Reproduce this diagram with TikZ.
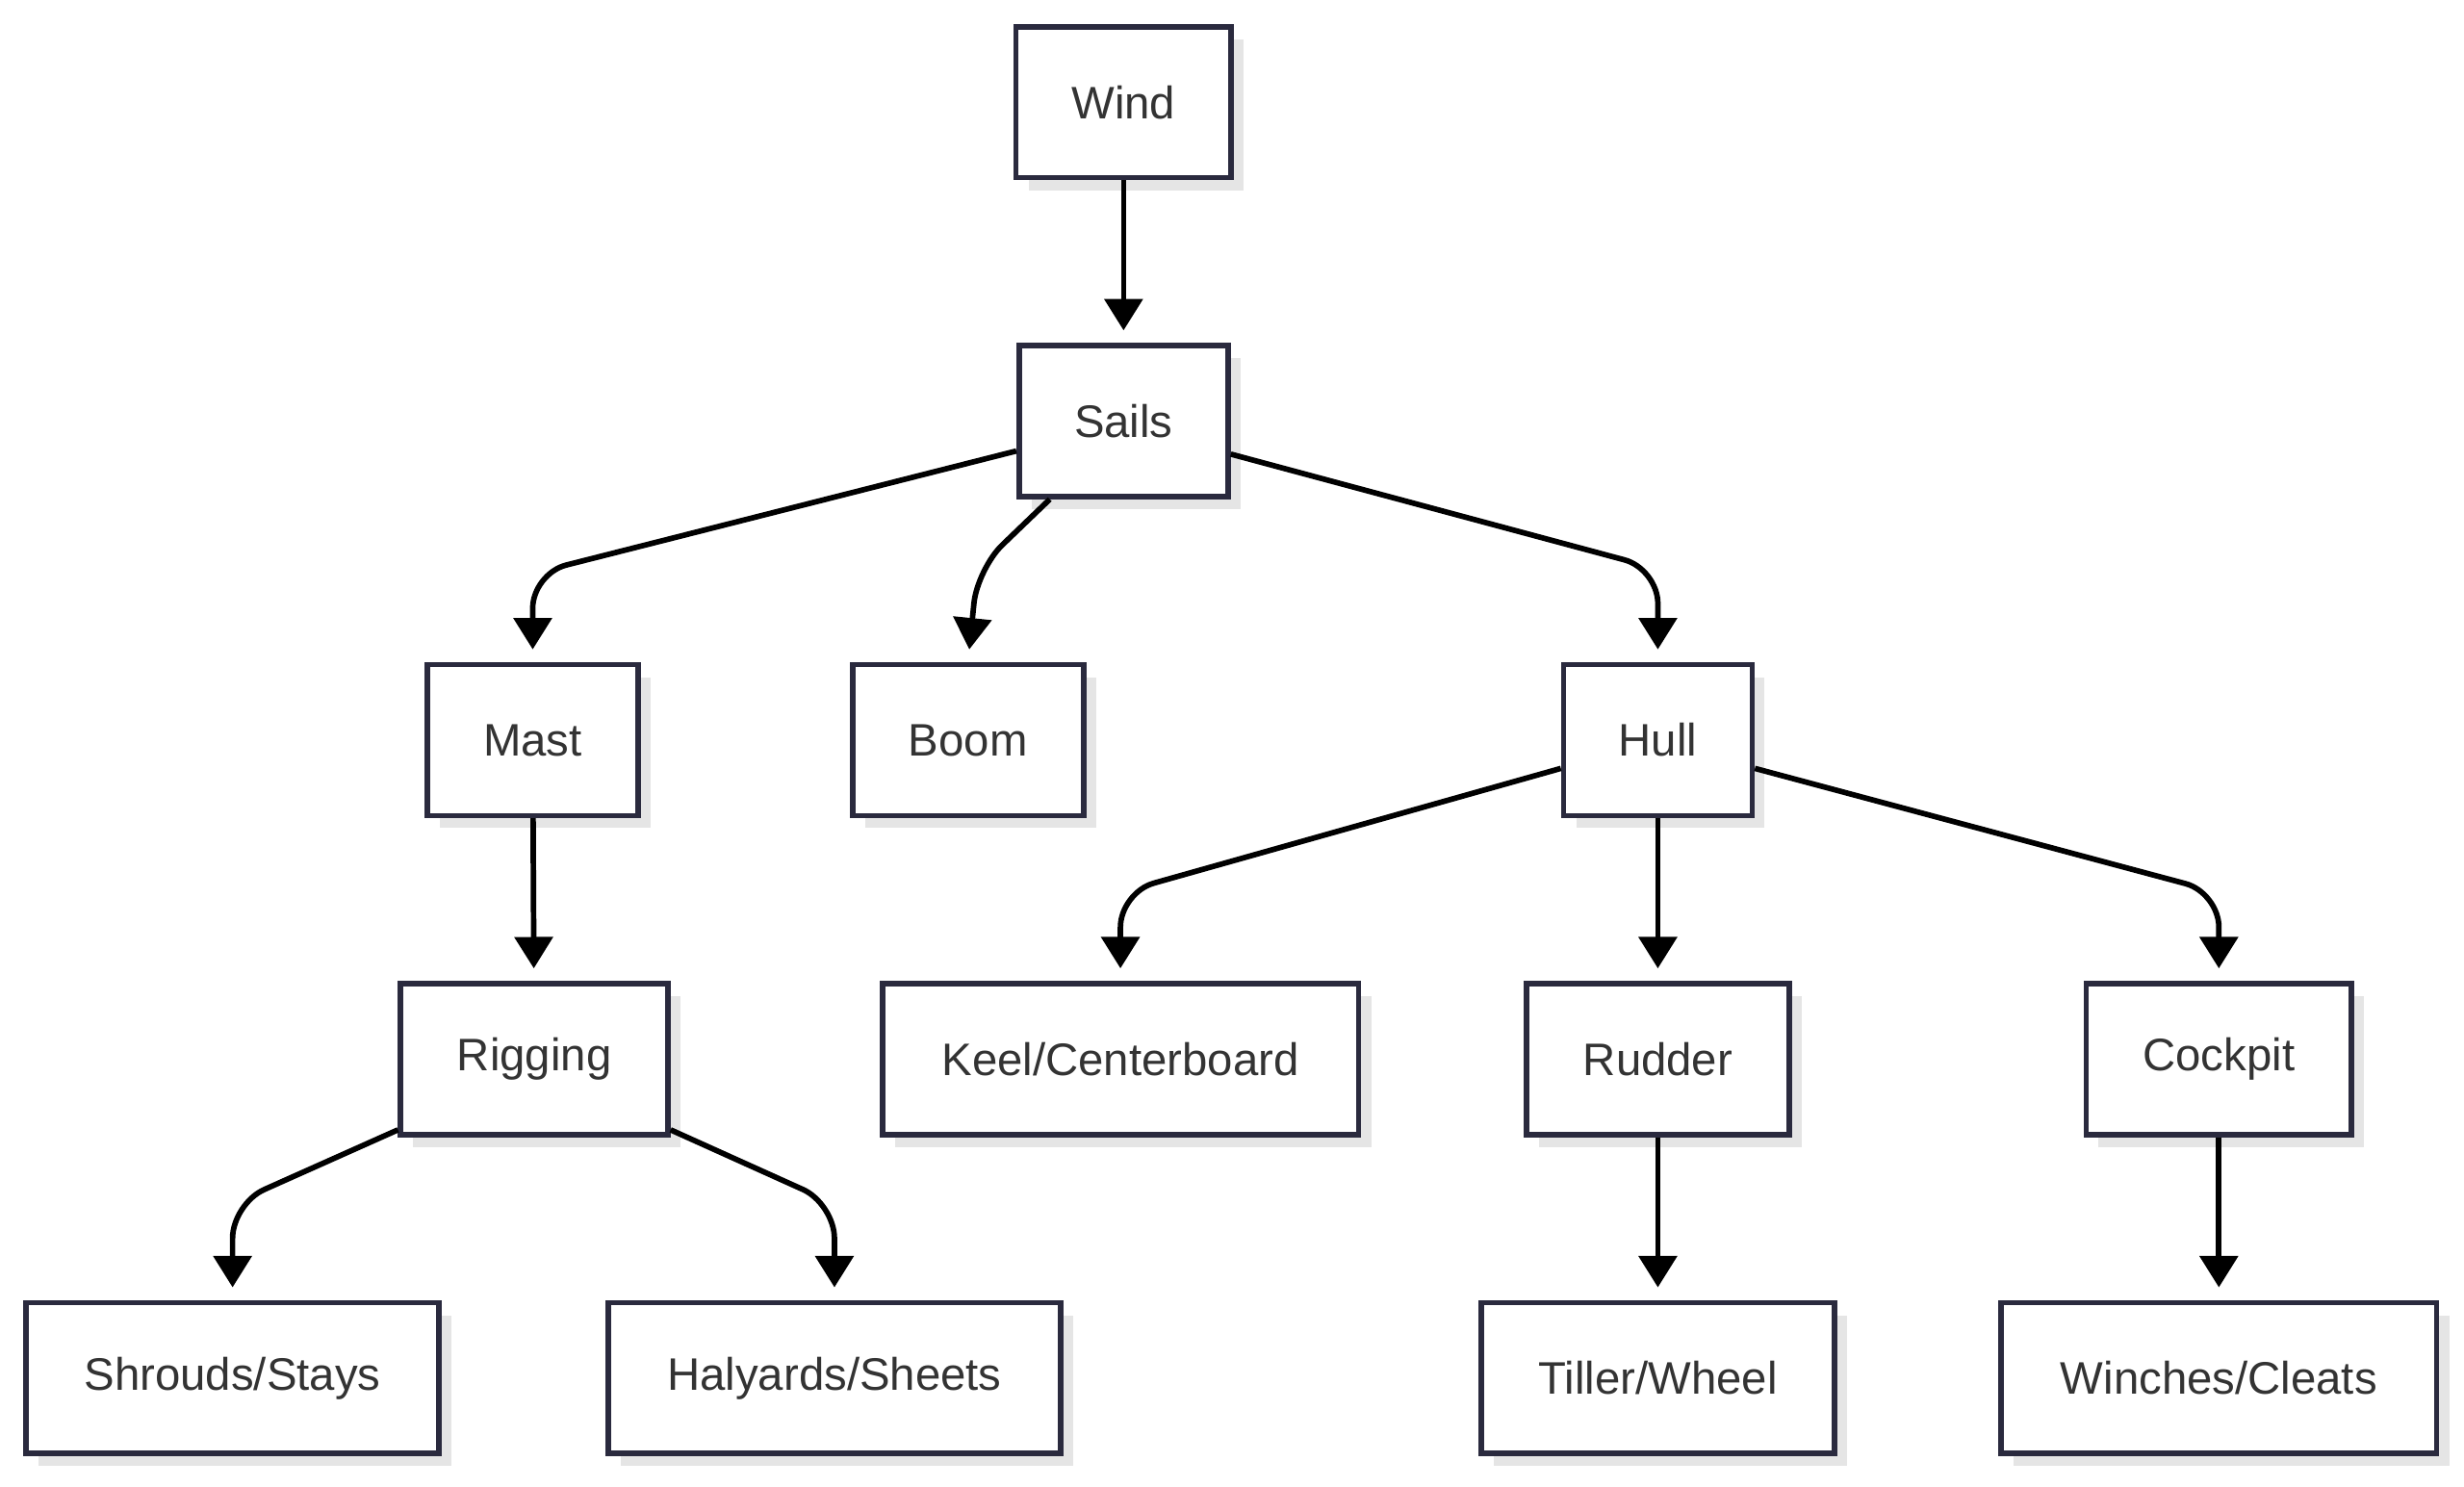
\documentclass[tikz,border=0pt]{standalone}
\usepackage{fontspec}
\setmainfont{Liberation Sans}
\usetikzlibrary{arrows.meta}
\definecolor{bd}{HTML}{2A2A3E}
\definecolor{tx}{HTML}{333333}
\begin{document}
\begin{tikzpicture}[x=1pt,y=-1pt,
 box/.style={draw=bd,line width=3.5pt,fill=white,minimum height=96pt,inner sep=0pt,
   font=\fontsize{29}{34}\selectfont,text=tx,
   preaction={draw=none,fill=black!10,transform canvas={shift={(8pt,-8pt)}}}},
 ar/.style={line width=3.5pt,rounded corners=22pt,-{Triangle[length=20pt,width=24pt]},shorten >=8pt}]
\useasboundingbox (0,0) rectangle (1568,946);
\node[box,minimum width=137pt] (wind) at (715,65) {Wind};
\node[box,minimum width=133pt] (sails) at (715,268) {Sails};
\node[box,minimum width=134pt] (mast) at (339,471) {Mast};
\node[box,minimum width=147pt] (boom) at (616,471) {Boom};
\node[box,minimum width=120pt] (hull) at (1055,471) {Hull};
\node[box,minimum width=170pt] (rig) at (340,674) {Rigging};
\node[box,minimum width=303pt] (keel) at (713,674) {Keel/Centerboard};
\node[box,minimum width=167pt] (rud) at (1055,674) {Rudder};
\node[box,minimum width=169pt] (cock) at (1412,674) {Cockpit};
\node[box,minimum width=263pt] (shr) at (148,877) {Shrouds/Stays};
\node[box,minimum width=288pt] (hal) at (531,877) {Halyards/Sheets};
\node[box,minimum width=225pt] (til) at (1055,877) {Tiller/Wheel};
\node[box,minimum width=277pt] (win) at (1412,877) {Winches/Cleats};
\coordinate (c1) at (339,365);
\coordinate (c2) at (622,362);
\coordinate (c3) at (1055,362);
\coordinate (c4) at (713,568);
\coordinate (c5) at (1412,568);
\coordinate (c6) at (148,766);
\coordinate (c7) at (531,766);
\draw[ar] (wind) -- (sails);
\draw[ar] ([yshift=-19pt]sails.west) -- (c1) -- (mast.north);
\draw[ar] ([xshift=-47pt]sails.south) -- (c2) -- (boom.north);
\draw[ar] ([yshift=-21pt]sails.east) -- (c3) -- (hull.north);
\draw[ar] (mast) -- (rig);
\draw[ar] ([yshift=-18pt]hull.west) -- (c4) -- (keel.north);
\draw[ar] (hull) -- (rud);
\draw[ar] ([yshift=-18pt]hull.east) -- (c5) -- (cock.north);
\draw[ar] ([yshift=-45pt]rig.west) -- (c6) -- (shr.north);
\draw[ar] ([yshift=-45pt]rig.east) -- (c7) -- (hal.north);
\draw[ar] (rud) -- (til);
\draw[ar] (cock) -- (win);
\end{tikzpicture}
\end{document}
